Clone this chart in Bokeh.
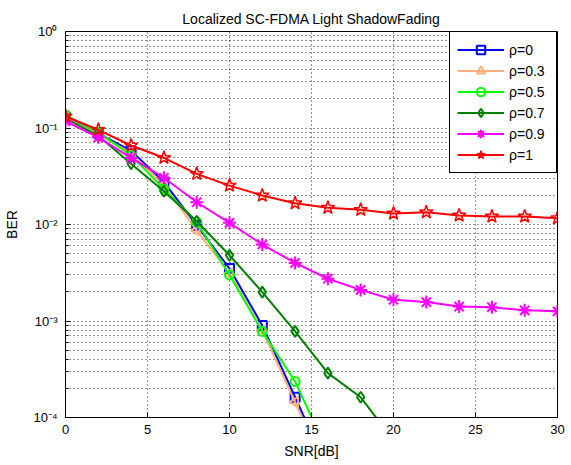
import numpy as np
from bokeh.plotting import figure
from bokeh.models import Range1d, FixedTicker, CustomJSTickFormatter, ColumnDataSource
from bokeh.embed import file_html
from bokeh.resources import INLINE

# ---- data ----
snr_full = [0, 2, 4, 6, 8, 10, 12, 14, 16, 18, 20, 22, 24, 26, 28, 30]
snr_fast = [0, 2, 4, 6, 8, 10, 12, 14, 16]
snr_mid = [0, 2, 4, 6, 8, 10, 12, 14, 16, 18, 20]

ber_rho0 = [0.130, 0.088, 0.058, 0.0275, 0.0098, 0.0035, 0.00090, 0.000162, 0.000029]
ber_rho03 = [0.128, 0.086, 0.055, 0.0254, 0.0087, 0.0031, 0.00080, 0.000144, 0.000026]
ber_rho05 = [0.137, 0.090, 0.052, 0.0234, 0.0106, 0.0030, 0.00078, 0.000236, 0.000043]
ber_rho07 = [0.126, 0.083, 0.0426, 0.0221, 0.0108, 0.0048, 0.00199, 0.00078, 0.000288, 0.000162, 0.000058]
ber_rho09 = [0.1175, 0.080, 0.049, 0.0305, 0.0170, 0.0104, 0.0062, 0.0040, 0.00274, 0.0021,
             0.00166, 0.00157, 0.00141, 0.00139, 0.00129, 0.00126]
ber_rho1 = [0.132, 0.0958, 0.0659, 0.0491, 0.0335, 0.0253, 0.0200, 0.0166, 0.0149, 0.0142,
            0.0130, 0.0134, 0.0124, 0.0121, 0.0121, 0.0116]

x_ticks = [0, 5, 10, 15, 20, 25, 30]
y_ticks = [1e-4, 1e-3, 1e-2, 1e-1, 1]
y_minor = [k * 10.0 ** e for e in range(-4, 0) for k in range(2, 10)]

FONT = "Liberation Sans"

p = figure(width=571, height=465, y_axis_type="log",
           x_range=Range1d(0, 30), y_range=Range1d(1e-4, 1),
           output_backend="svg", toolbar_location=None,
           title="Localized SC-FDMA Light ShadowFading",
           min_border_left=65, min_border_right=14, min_border_top=31, min_border_bottom=48)

p.background_fill_color = "white"
p.border_fill_color = "white"
p.outline_line_color = "black"
p.outline_line_width = 1

p.title.align = "center"
p.title.text_font = FONT
p.title.text_font_size = "14px"
p.title.text_font_style = "normal"
p.title.text_color = "black"

sup = CustomJSTickFormatter(code="""
const e = Math.round(Math.log10(tick));
const m = {'-':'\u207b','0':'\u2070','1':'\u00b9','2':'\u00b2','3':'\u00b3','4':'\u2074'};
return '10' + String(e).split('').map(c => m[c]).join('');
""")

xa = p.xaxis[0]
xa.ticker = FixedTicker(ticks=x_ticks)
xa.axis_label = "SNR[dB]"
ya = p.yaxis[0]
ya.ticker = FixedTicker(ticks=y_ticks, minor_ticks=y_minor)
ya.formatter = sup
ya.axis_label = "BER"

for ax in (xa, ya):
    ax.major_tick_in = 5
    ax.major_tick_out = 0
    ax.minor_tick_in = 3
    ax.minor_tick_out = 0
    ax.axis_line_color = "black"
    ax.major_tick_line_color = "black"
    ax.minor_tick_line_color = "black"
    ax.major_label_text_font = FONT
    ax.major_label_text_font_size = "13px"
    ax.major_label_text_color = "black"
    ax.axis_label_text_font = FONT
    ax.axis_label_text_font_size = "14px"
    ax.axis_label_text_font_style = "normal"
    ax.axis_label_text_color = "black"
xa.minor_tick_line_color = None
xa.major_label_standoff = 7
xa.axis_label_standoff = 6
ya.major_label_standoff = 8
ya.axis_label_standoff = 10

p.xgrid.grid_line_color = "black"
p.xgrid.grid_line_dash = "1 3"
p.xgrid.grid_line_alpha = 0.85
p.ygrid.grid_line_color = "black"
p.ygrid.grid_line_dash = "1 3"
p.ygrid.grid_line_alpha = 0.85
p.ygrid.minor_grid_line_color = "black"
p.ygrid.minor_grid_line_dash = "1 3"
p.ygrid.minor_grid_line_alpha = 0.85

series = [
    ("\u03c1=0", snr_fast, ber_rho0, "#0000FF", "square", 9, 0.0, 2),
    ("\u03c1=0.3", snr_fast, ber_rho03, "#FFB07A", "triangle", 10, np.pi / 2, 2),
    ("\u03c1=0.5", snr_fast, ber_rho05, "#00FF00", "circle", 9, 0.0, 2),
    ("\u03c1=0.7", snr_mid, ber_rho07, "#008000", "diamond", 11, 0.0, 2),
    ("\u03c1=0.9", snr_full, ber_rho09, "#FF00FF", "asterisk", 13, 0.0, 2),
    ("\u03c1=1", snr_full, ber_rho1, "#FF0000", "star", 14, 0.0, 1.5),
]
for label, xs, ys, color, marker, size, ang, mlw in series:
    p.line(xs, ys, line_color=color, line_width=2, legend_label=label)
    src = ColumnDataSource(dict(x=xs, y=ys, a=[ang] * len(xs)))
    p.scatter("x", "y", source=src, marker=marker, size=size, angle="a",
              line_color=color, fill_color=None, line_width=mlw, legend_label=label)

lg = p.legend[0]
lg.location = "top_right"
lg.margin = 0
lg.padding = 7
lg.spacing = 0
lg.glyph_width = 47
lg.glyph_height = 21
lg.label_height = 21
lg.label_width = 40
lg.label_standoff = 5
lg.border_line_color = "black"
lg.border_line_width = 1
lg.border_line_alpha = 1
lg.background_fill_color = "white"
lg.background_fill_alpha = 1
lg.label_text_font = FONT
lg.label_text_font_size = "14px"
lg.label_text_color = "black"

open("out.html", "w").write(file_html(p, INLINE))
